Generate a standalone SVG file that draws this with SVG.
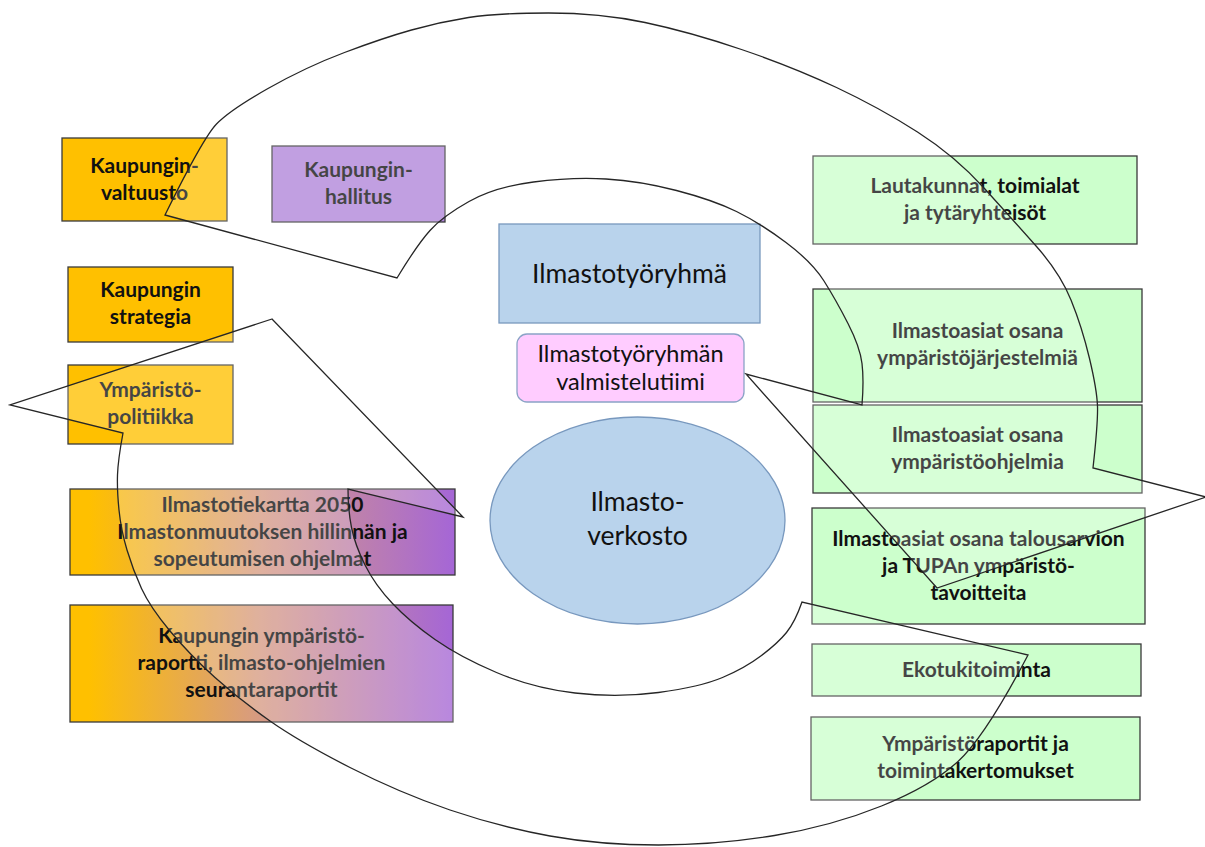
<svg xmlns="http://www.w3.org/2000/svg" width="1205" height="847" viewBox="0 0 1205 847">
<defs>
<linearGradient id="gp" x1="0" y1="0" x2="1" y2="0">
<stop offset="0" stop-color="#FFC000"/>
<stop offset="0.05" stop-color="#FFC000"/>
<stop offset="0.5" stop-color="#D69A84"/>
<stop offset="1" stop-color="#A566D6"/>
</linearGradient>
<style>
.gold{fill:#FFC000;stroke:#3a3a3a;stroke-width:1.3}
.purple{fill:#B085D9;stroke:#3a3a3a;stroke-width:1.3}
.grad{fill:url(#gp);stroke:#3a3a3a;stroke-width:1.3}
.green{fill:#CCFFCC;stroke:#3a3a3a;stroke-width:1.3}
.blue{fill:#B9D3EC;stroke:#7898BE;stroke-width:1.3}
.pink{fill:#FFCCFF;stroke:#8BA3C6;stroke-width:1.3}
text{font-family:Lato,'Liberation Sans',sans-serif;text-anchor:middle;fill:#111}
.b{font-weight:bold;font-size:21px}
.r{font-size:26.5px}
.m{font-size:23.5px}
.band{fill:#fff;fill-opacity:0.22;stroke:#262626;stroke-width:1.3;stroke-linejoin:miter;stroke-miterlimit:10}
</style>
</defs>
<rect width="1205" height="847" fill="#fff"/>
<g id="valtuusto"><rect class="gold" x="62" y="138" width="165" height="83"/><text class="b" x="144.5" y="173">Kaupungin-</text><text class="b" x="144.5" y="200">valtuusto</text></g>
<g id="hallitus"><rect class="purple" x="272" y="146" width="173" height="76"/><text class="b" x="358.5" y="177">Kaupungin-</text><text class="b" x="358.5" y="204">hallitus</text></g>
<g id="strategia"><rect class="gold" x="68" y="267" width="165" height="75"/><text class="b" x="150.5" y="297">Kaupungin</text><text class="b" x="150.5" y="324">strategia</text></g>
<g id="ymparistopolitiikka"><rect class="gold" x="68" y="365" width="165" height="79"/><text class="b" x="150.5" y="397">Ympäristö-</text><text class="b" x="150.5" y="424">politiikka</text></g>
<g id="tiekartta"><rect class="grad" x="70" y="489" width="385" height="86"/><text class="b" x="262.5" y="512">Ilmastotiekartta 2050</text><text class="b" x="262.5" y="539">Ilmastonmuutoksen hillinnän ja</text><text class="b" x="262.5" y="566">sopeutumisen ohjelmat</text></g>
<g id="raportti"><rect class="grad" x="70" y="605" width="383" height="117"/><text class="b" x="261.5" y="643">Kaupungin ympäristö-</text><text class="b" x="261.5" y="670">raportti, ilmasto-ohjelmien</text><text class="b" x="261.5" y="697">seurantaraportit</text></g>
<g id="ilmastotyoryhma"><rect class="blue" x="499" y="224" width="261" height="99"/><text class="r" x="629.5" y="283">Ilmastotyöryhmä</text></g>
<g id="valmistelutiimi"><rect class="pink" x="517" y="334" width="227" height="68" rx="10"/><text class="m" x="630.5" y="362">Ilmastotyöryhmän</text><text class="m" x="630.5" y="390">valmistelutiimi</text></g>
<g id="ilmastoverkosto"><ellipse class="blue" cx="637.5" cy="520.5" rx="147.5" ry="103.5"/><text class="r" x="637.5" y="511">Ilmasto-</text><text class="r" x="637.5" y="545">verkosto</text></g>
<g id="lautakunnat"><rect class="green" x="813" y="156" width="324" height="88"/><text class="b" x="975" y="193">Lautakunnat, toimialat</text><text class="b" x="975" y="220">ja tytäryhteisöt</text></g>
<g id="jarjestelmat"><rect class="green" x="813" y="289" width="329" height="113"/><text class="b" x="977.5" y="338">Ilmastoasiat osana</text><text class="b" x="977.5" y="365">ympäristöjärjestelmiä</text></g>
<g id="ohjelmat"><rect class="green" x="813" y="405" width="329" height="88"/><text class="b" x="977.5" y="442">Ilmastoasiat osana</text><text class="b" x="977.5" y="469">ympäristöohjelmia</text></g>
<g id="talousarvio"><rect class="green" x="812" y="508" width="333" height="116"/><text class="b" x="978.5" y="546">Ilmastoasiat osana talousarvion</text><text class="b" x="978.5" y="573">ja TUPAn ympäristö-</text><text class="b" x="978.5" y="600">tavoitteita</text></g>
<g id="ekotuki"><rect class="green" x="812" y="644" width="329" height="52"/><text class="b" x="976.5" y="677">Ekotukitoiminta</text></g>
<g id="ymparistoraportit"><rect class="green" x="811" y="717" width="329" height="83"/><text class="b" x="975.5" y="751">Ympäristöraportit ja</text><text class="b" x="975.5" y="778">toimintakertomukset</text></g>
<g id="connectors">
<path class="band" d="M165,215 L397,278 Q417,245 430,230.5 Q443,216 469,201.5 Q495,187 533.5,182 Q572,177 606,179 Q640,181 676.5,190.5 Q713,200 736.5,211.5 Q760,223 786,242.5 Q812,262 824,281 Q836,300 848,323.5 Q860,347 862,363.5 Q864,380 862,405 L746,374 L937,588 L1206,497 L1093,468 Q1098,423 1097.5,406.5 Q1097,390 1089.5,358.5 Q1082,327 1071,300 Q1060,273 1036.5,246.5 Q1013,220 984,188 Q955,156 917.5,132 Q880,108 836.5,87.5 Q793,67 741.5,49.5 Q690,32 645,22.5 Q600,13 548.5,13 Q497,13 468.5,17.5 Q440,22 411.5,30 Q383,38 344.5,52.5 Q306,67 268,88.5 Q230,110 216.5,124 Q203,138 165,215 Z"/>
<path class="band" d="M272,319 L10,405 L123,433 Q118,460 117.5,475 Q117,490 119,510 Q121,530 127,550 Q133,570 141.5,588.5 Q150,607 170,631 Q190,655 215,677.5 Q240,700 270,721 Q300,742 350,767.5 Q400,793 450,810 Q500,827 550,836 Q600,845 658.5,845 Q717,845 774.5,835.5 Q832,826 881.5,806 Q931,786 958,761.5 Q985,737 1028,655 L802,602 Q795,622 786.5,632.5 Q778,643 761.5,655.5 Q745,668 722.5,677.5 Q700,687 658.5,692.5 Q617,698 575,693 Q533,688 496.5,672.5 Q460,657 435,639.5 Q410,622 392.5,603.5 Q375,585 365,565 Q355,545 351.5,527.5 Q348,510 348,489 L463,517 Z"/>
</g>
</svg>
